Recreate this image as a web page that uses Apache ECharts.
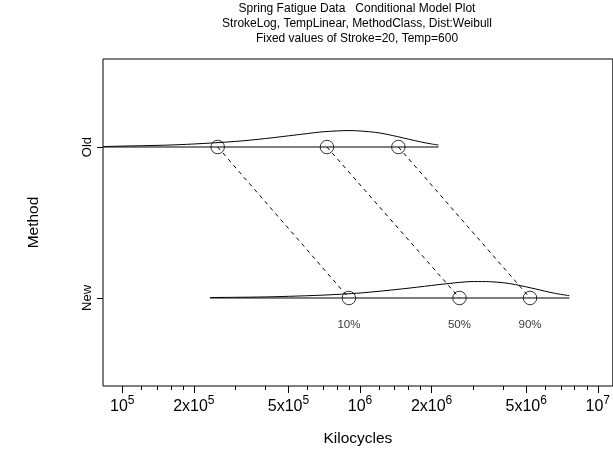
<!DOCTYPE html>
<html>
<head>
<meta charset="utf-8">
<script src="https://cdn.jsdelivr.net/npm/echarts@6/dist/echarts.min.js"></script>
<style>html,body{margin:0;padding:0;background:#fff}#c{width:613px;height:454px}</style>
</head>
<body>
<div id="c"></div>
<script>
// ---- data (Kilocycles) ----
const titleLines = ['Spring Fatigue Data   Conditional Model Plot', 'StrokeLog, TempLinear, MethodClass, Dist:Weibull', 'Fixed values of Stroke=20, Temp=600'];
const methods = ['New', 'Old'];            // y positions 1, 2
const pctLabels = ['10%', '50%', '90%'];
const oldQuantiles = [2.52e5, 7.26e5, 1.45e6];
const newQuantiles = [8.98e5, 2.62e6, 5.19e6];
// density curves: x (kilocycles) and height above the method baseline (axis units)
const oldCurveX = [8.3e4, 1e5, 1.5e5, 2e5, 3e5, 4e5, 5e5, 6e5, 7e5, 9e5, 1.15e6, 1.3e6, 1.6e6, 1.8e6, 2e6, 2.14e6];
const oldCurveH = [0.003, 0.006, 0.012, 0.020, 0.037, 0.056, 0.074, 0.089, 0.101, 0.109, 0.098, 0.084, 0.052, 0.034, 0.020, 0.013];
const newCurveX = [2.34e5, 3e5, 4e5, 5e5, 7e5, 1e6, 1.5e6, 2e6, 2.5e6, 3e6, 3.5e6, 4e6, 4.5e6, 5.5e6, 6.5e6, 7.6e6];
const newCurveH = [0.003, 0.0045, 0.007, 0.011, 0.019, 0.033, 0.060, 0.083, 0.100, 0.109, 0.108, 0.101, 0.089, 0.059, 0.033, 0.015];
const majorTicks = [1e5, 2e5, 5e5, 1e6, 2e6, 5e6, 1e7];
const minorTicks = [1.2e5, 1.4e5, 1.6e5, 1.8e5, 3e5, 4e5, 6e5, 7e5, 8e5, 9e5,
                    1.2e6, 1.4e6, 1.6e6, 1.8e6, 3e6, 4e6, 6e6, 7e6, 8e6, 9e6];
const xMin = 8.3e4, xMax = 1.157e7;

// ---- build ----
const L = Math.log10;
const FONT = "'Liberation Sans', Arial, Helvetica, sans-serif";
const chart = echarts.init(document.getElementById('c'), null, {renderer: 'canvas'});

function curve(xs, hs, base) { return xs.map((x, i) => [L(x), base + hs[i]]); }
function baseline(xs, base) { return [[L(xs[0]), base], [L(xs[xs.length - 1]), base]]; }

const black = '#000';
const series = [];
function lineSeries(data, extra) {
  series.push(Object.assign({
    type: 'line', data: data, symbol: 'none', silent: true, animation: false,
    lineStyle: {color: black, width: 1}, xAxisIndex: 0, yAxisIndex: 0
  }, extra || {}));
}
lineSeries(baseline(oldCurveX, 2));
lineSeries(curve(oldCurveX, oldCurveH, 2), {smooth: 0.3});
lineSeries(baseline(newCurveX, 1));
lineSeries(curve(newCurveX, newCurveH, 1), {smooth: 0.3});
for (let i = 0; i < oldQuantiles.length; i++) {
  lineSeries([[L(oldQuantiles[i]), 2], [L(newQuantiles[i]), 1]], {lineStyle: {color: black, width: 1, type: [4, 4]}});
}
series.push({
  type: 'scatter', symbol: 'circle', symbolSize: 13.5, silent: true, animation: false,
  itemStyle: {color: 'rgba(0,0,0,0)', borderColor: black, borderWidth: 1},
  data: oldQuantiles.map(q => [L(q), 2])
});
series.push({
  type: 'scatter', symbol: 'circle', symbolSize: 13.5, silent: true, animation: false,
  itemStyle: {color: 'rgba(0,0,0,0)', borderColor: black, borderWidth: 1},
  label: {show: true, position: 'bottom', distance: 14, color: black, fontFamily: FONT, fontSize: 11.5,
          formatter: p => pctLabels[p.dataIndex]},
  data: newQuantiles.map(q => [L(q), 1])
});

function fmtTick(v) {
  const e = Math.floor(v + 1e-9);
  const m = Math.round(Math.pow(10, v - e));
  return (m === 1 ? '{a|10}' : '{a|' + m + 'x10}') + '{s|' + e + '}';
}

chart.setOption({
  animation: false,
  grid: {left: 103, top: 59, right: -2, bottom: 68, show: true, borderColor: black, borderWidth: 1, containLabel: false},
  graphic: titleLines.map((t, i) => ({
    type: 'text', x: 357, y: 8.5 + i * 15.3, silent: true,
    style: {text: t, fill: black, font: '12px ' + FONT, align: 'center', verticalAlign: 'middle'}
  })),
  xAxis: [{
    type: 'value', min: L(xMin), max: L(xMax), position: 'bottom',
    axisLine: {show: false}, splitLine: {show: false},
    axisTick: {show: true, customValues: majorTicks.map(L), length: 7, lineStyle: {color: black}},
    axisLabel: {show: true, customValues: majorTicks.map(L), formatter: fmtTick, margin: 8, color: black,
      rich: {a: {fontFamily: FONT, fontSize: 16, color: black, lineHeight: 20, padding: [6, 0, 0, 0]},
             s: {fontFamily: FONT, fontSize: 12, color: black, lineHeight: 20, padding: [0, 0, 6, 0]}}},
    name: 'Kilocycles', nameLocation: 'middle', nameGap: 45,
    nameTextStyle: {fontFamily: FONT, fontSize: 15.5, color: black}
  }, {
    type: 'value', min: L(xMin), max: L(xMax), position: 'bottom',
    axisLine: {show: false}, splitLine: {show: false},
    axisTick: {show: true, customValues: minorTicks.map(L), length: 4, lineStyle: {color: black}},
    axisLabel: {show: false}
  }],
  yAxis: {
    type: 'value', min: 0.417, max: 2.583,
    axisLine: {show: false}, splitLine: {show: false},
    axisTick: {show: true, customValues: [1, 2], length: 6, lineStyle: {color: black}},
    axisLabel: {show: true, customValues: [1, 2], rotate: 90, margin: 9, color: black,
      fontFamily: FONT, fontSize: 13, formatter: v => methods[Math.round(v) - 1]},
    name: 'Method', nameLocation: 'middle', nameGap: 61, nameRotate: 90,
    nameTextStyle: {fontFamily: FONT, fontSize: 15.5, color: black}
  },
  series: series
});
</script>
</body>
</html>
